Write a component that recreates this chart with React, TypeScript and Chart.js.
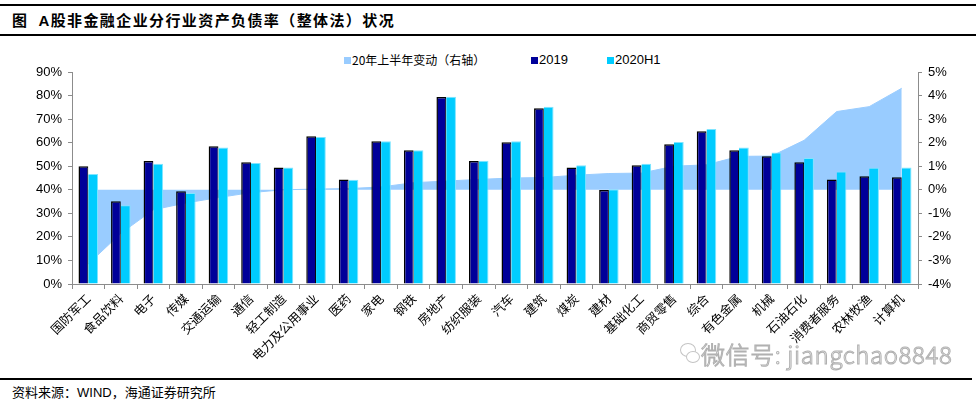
import React, { useEffect, useRef } from "react";
import { Chart, registerables } from "chart.js";

Chart.register(...registerables);

const categories = [
  "国防军工", "食品饮料", "电子", "传媒", "交通运输", "通信", "轻工制造", "电力及公用事业",
  "医药", "家电", "钢铁", "房地产", "纺织服装", "汽车", "建筑", "煤炭", "建材", "基础化工",
  "商贸零售", "综合", "有色金属", "机械", "石油石化", "消费者服务", "农林牧渔", "计算机",
];

const ratio2019 = [
  50.0, 35.1, 52.2, 39.4, 58.5, 51.7, 49.5, 62.7, 44.4, 60.6, 56.8, 79.4, 52.2,
  60.2, 74.6, 49.5, 39.9, 50.4, 59.3, 64.8, 56.8, 54.2, 51.7, 44.4, 45.7, 45.3,
];

const ratio2020H1 = [
  46.7, 33.4, 51.1, 38.6, 58.0, 51.4, 49.5, 62.4, 44.3, 60.6, 56.8, 79.5, 52.3,
  60.6, 75.3, 50.4, 40.2, 51.1, 60.3, 65.8, 57.9, 55.8, 53.5, 47.8, 49.3, 49.5,
];

const changeH1 = [
  -3.15, -1.85, -0.85, -0.56, -0.33, -0.12, 0.0, 0.03, 0.05, 0.12, 0.3, 0.37, 0.44,
  0.5, 0.52, 0.62, 0.69, 0.71, 1.0, 1.06, 1.42, 1.43, 2.1, 3.32, 3.53, 4.31,
];

const leftTicks = { min: 0, max: 90, step: 10 };
const rightTicks = { min: -4, max: 5, step: 1 };

const seriesNames = ["20年上半年变动（右轴）", "2019", "2020H1"];
const seriesColors = ["#99CCFF", "#000099", "#00CCFF"];

const CANVAS_W = 980;
const CANVAS_H = 330;

export default function App() {
  const ref = useRef<HTMLCanvasElement | null>(null);

  useEffect(() => {
    if (!ref.current) return;
    const axisColor = "#8c8c8c";
    const tickFont = { family: "'Liberation Sans', Arial, sans-serif", size: 13 };
    const chart = new Chart(ref.current, {
      type: "bar",
      data: {
        labels: categories,
        datasets: [
          {
            type: "line",
            label: seriesNames[0],
            data: changeH1,
            yAxisID: "y1",
            fill: "origin",
            backgroundColor: seriesColors[0],
            borderColor: seriesColors[0],
            borderWidth: 1,
            pointRadius: 0,
            tension: 0,
            order: 3,
          } as any,
          {
            type: "bar",
            label: seriesNames[1],
            data: ratio2019,
            yAxisID: "y",
            backgroundColor: seriesColors[1],
            borderColor: "#000000",
            borderWidth: { top: 1.5, left: 1.5, right: 1, bottom: 0 },
            borderSkipped: false,
            categoryPercentage: 0.6,
            barPercentage: 1.0,
            order: 1,
          } as any,
          {
            type: "bar",
            label: seriesNames[2],
            data: ratio2020H1,
            yAxisID: "y",
            backgroundColor: seriesColors[2],
            borderColor: "#7fe5ff",
            borderWidth: { top: 1, left: 0, right: 1, bottom: 0 },
            borderSkipped: false,
            categoryPercentage: 0.6,
            barPercentage: 1.0,
            order: 2,
          } as any,
        ],
      },
      options: {
        animation: false,
        responsive: false,
        maintainAspectRatio: false,
        layout: { padding: { top: 32, left: 0, right: 0, bottom: 0 } },
        plugins: {
          legend: { display: false },
          tooltip: { enabled: false },
          title: { display: false },
        },
        scales: {
          x: {
            type: "category",
            offset: true,
            grid: {
              offset: true,
              drawOnChartArea: false,
              drawTicks: true,
              tickLength: 5,
              color: axisColor,
            },
            border: { color: axisColor, width: 1 },
            ticks: {
              autoSkip: false,
              minRotation: 45,
              maxRotation: 45,
              padding: 2,
              color: "#000",
              font: { family: "'Noto Sans CJK SC', sans-serif", size: 12.5 },
            },
            afterFit: (scale: any) => {
              scale.height = 86;
            },
          },
          y: {
            position: "left",
            min: leftTicks.min,
            max: leftTicks.max,
            grid: { drawOnChartArea: false, drawTicks: true, tickLength: 4, color: axisColor },
            border: { color: axisColor, width: 1 },
            ticks: {
              stepSize: leftTicks.step,
              padding: 6,
              color: "#000",
              font: tickFont,
              callback: (v: any) => `${v}%`,
            },
            afterFit: (scale: any) => {
              scale.width = 72;
            },
          },
          y1: {
            position: "right",
            min: rightTicks.min,
            max: rightTicks.max,
            grid: { drawOnChartArea: false, drawTicks: true, tickLength: 4, color: axisColor },
            border: { color: axisColor, width: 1 },
            ticks: {
              stepSize: rightTicks.step,
              padding: 6,
              color: "#000",
              font: tickFont,
              callback: (v: any) => `${v}%`,
            },
            afterFit: (scale: any) => {
              scale.width = 62;
            },
          },
        },
      } as any,
    });
    return () => chart.destroy();
  }, []);

  const legendFont = "'Liberation Sans', Arial, sans-serif";
  const legendItems = [
    { name: seriesNames[0], color: seriesColors[0], sq: 344, tx: 352, font: "'Noto Sans CJK SC', sans-serif", size: 12 },
    { name: seriesNames[1], color: seriesColors[1], sq: 531, tx: 539, font: legendFont, size: 13 },
    { name: seriesNames[2], color: seriesColors[2], sq: 607, tx: 615, font: legendFont, size: 13 },
  ];

  return (
    <div
      style={{
        position: "absolute",
        left: 0,
        top: 0,
        width: 980,
        height: 402,
        background: "#fff",
        overflow: "hidden",
        fontFamily: "'Noto Sans CJK SC', sans-serif",
      }}
    >
      <div style={{ position: "absolute", left: 0, top: 4, width: 976, height: 2, background: "#000" }} />
      <div
        style={{
          position: "absolute",
          left: 12,
          top: 10,
          fontSize: 15,
          fontWeight: 700,
          lineHeight: "20px",
          letterSpacing: "1.4px",
          whiteSpace: "pre",
          color: "#000",
        }}
      >
        图<span style={{ marginLeft: 10, fontFamily: "'Liberation Sans', Arial, sans-serif" }}>A</span>股非金融企业分行业资产负债率（整体法）状况
      </div>
      <div style={{ position: "absolute", left: 0, top: 34, width: 976, height: 2, background: "#000" }} />

      {legendItems.map((it) => (
        <React.Fragment key={it.name}>
          <div
            style={{
              position: "absolute",
              left: it.sq,
              top: 57,
              width: 7,
              height: 7,
              background: it.color,
            }}
          />
          <div
            style={{
              position: "absolute",
              left: it.tx,
              top: 51,
              lineHeight: "18px",
              fontSize: it.size,
              fontFamily: it.font,
              color: "#000",
              whiteSpace: "pre",
            }}
          >
            {it.name}
          </div>
        </React.Fragment>
      ))}

      <canvas
        ref={ref}
        width={CANVAS_W}
        height={CANVAS_H}
        style={{ position: "absolute", left: 0, top: 40, width: CANVAS_W, height: CANVAS_H }}
      />

      <div
        style={{
          position: "absolute",
          left: 680,
          top: 343,
          width: 14,
          height: 12,
          border: "1.5px solid #c4c4c4",
          borderRadius: "50%",
        }}
      />
      <div
        style={{
          position: "absolute",
          left: 686,
          top: 351,
          width: 12,
          height: 10,
          border: "1.5px solid #c4c4c4",
          borderRadius: "50%",
          background: "#fff",
        }}
      />
      <div
        style={{
          position: "absolute",
          left: 701,
          top: 339,
          fontSize: 24,
          lineHeight: "30px",
          letterSpacing: "0.6px",
          fontFamily: "'Noto Sans CJK SC', sans-serif",
          fontWeight: 300,
          color: "#ffffff",
          WebkitTextStroke: "1px #b0b0b0",
          whiteSpace: "pre",
        }}
      >
        微信号: jiangchao8848
      </div>

      <div style={{ position: "absolute", left: 0, top: 378, width: 972, height: 2, background: "#000" }} />
      <div
        style={{
          position: "absolute",
          left: 12,
          top: 383,
          fontSize: 13,
          lineHeight: "18px",
          color: "#000",
          whiteSpace: "pre",
        }}
      >
        资料来源：<span style={{ fontFamily: "'Liberation Sans', Arial, sans-serif" }}>WIND</span>，海通证券研究所
      </div>
    </div>
  );
}
